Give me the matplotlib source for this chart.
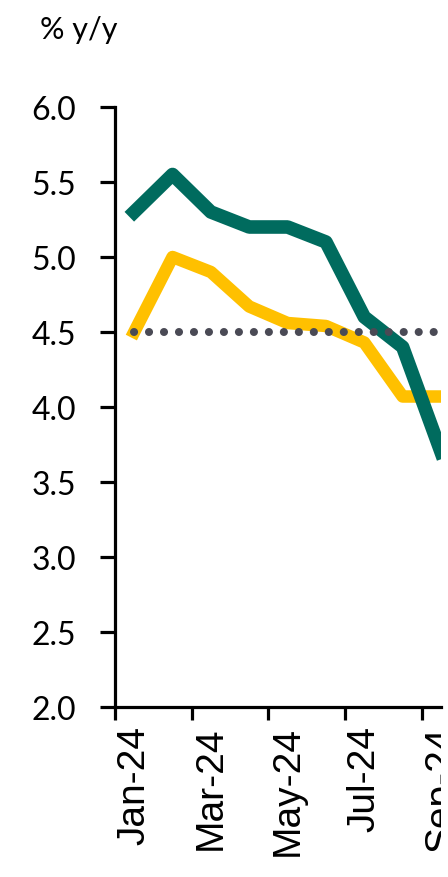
import matplotlib.pyplot as plt
import numpy as np
from matplotlib.transforms import Bbox, TransformedBbox

# Monthly inflation, % y/y
months = ["Jan-24", "Feb-24", "Mar-24", "Apr-24", "May-24", "Jun-24", "Jul-24", "Aug-24", "Sep-24"]
headline = [5.3, 5.55, 5.3, 5.2, 5.2, 5.1, 4.6, 4.4, 3.7]
core = [4.5, 5.0, 4.9, 4.67, 4.56, 4.54, 4.43, 4.07, 4.07]
target = 4.5

green = "#006B5E"
yellow = "#FFC000"
dots = "#4A4A55"

fig = plt.figure(figsize=(4.48, 8.78), dpi=100)
right_edge = 441 / 448
ax = fig.add_axes([0.2567, 0.1936, right_edge - 0.2567, 0.6834])

x = np.arange(len(months))
ax.plot(x, headline, color=green, lw=9.8, solid_joinstyle="round", zorder=3)
ax.plot(x, core, color=yellow, lw=9.0, solid_joinstyle="round", zorder=2)

xmin, xmax = -0.5, 7.99
ax.set_xlim(xmin, xmax)
ax.axhline(target, xmin=(0 - xmin) / (xmax - xmin), xmax=1, color=dots, lw=5.8,
           linestyle=(0, (0.01, 1.85)), dash_capstyle="round", zorder=4)

ax.set_ylim(2.0, 6.0)
yt = np.arange(2.0, 6.01, 0.5)
ax.set_yticks(yt)
ax.set_yticklabels([f"{v:.1f}" for v in yt], fontfamily="Lato", fontsize=23)

# tick marks between categories, labels at every other category centre
ax.set_xticks(x[::2] - 0.5)
ax.set_xticklabels([])
ax.set_xticks(x[::2], minor=True)
ax.set_xticklabels(months[::2], minor=True, rotation=90,
                   fontfamily="Liberation Sans", fontsize=28)

for s in ["top", "right"]:
    ax.spines[s].set_visible(False)
for s in ["left", "bottom"]:
    ax.spines[s].set_linewidth(2.3)
ax.tick_params(axis="y", length=11, width=2.3, pad=17)
ax.tick_params(axis="x", which="major", length=9, width=2.3)
ax.tick_params(axis="x", which="minor", length=0, pad=13)

clip = TransformedBbox(Bbox([[0, 0], [right_edge, 1]]), fig.transFigure)
for lbl in ax.get_xticklabels(minor=True):
    lbl.set_clip_box(clip)
    lbl.set_clip_on(True)

fig.text(0.09, 1 - 30 / 878, "% y/y", fontfamily="Lato", fontsize=22, va="center")

fig.savefig("out.png", dpi=100)
